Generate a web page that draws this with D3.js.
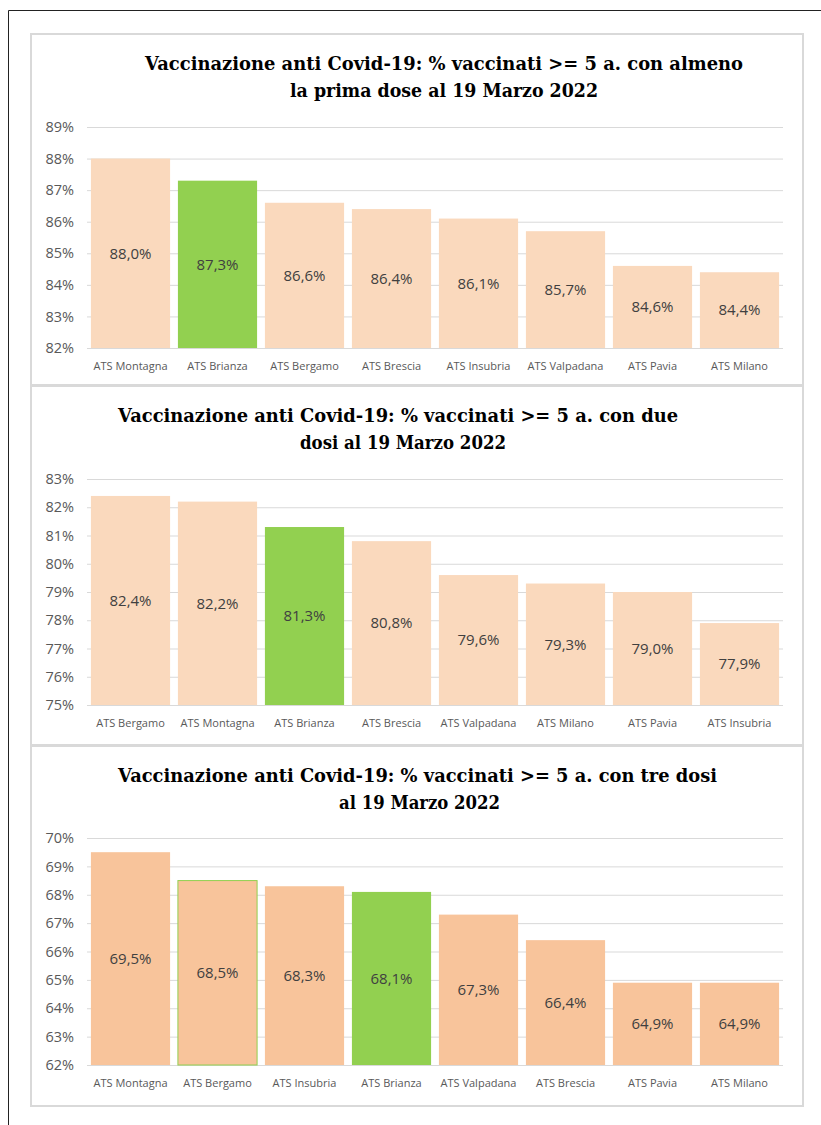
<!DOCTYPE html>
<html>
<head>
<meta charset="utf-8">
<script src="https://cdn.jsdelivr.net/npm/d3@7"></script>
<style>
  body { margin: 0; background: #fff; }
  svg { display: block; }
</style>
</head>
<body>
<svg id="chart"></svg>
<script>
// Data
var categoriesPrima = ["ATS Montagna", "ATS Brianza", "ATS Bergamo", "ATS Brescia", "ATS Insubria", "ATS Valpadana", "ATS Pavia", "ATS Milano"];
var valuesPrima = [88.0, 87.3, 86.6, 86.4, 86.1, 85.7, 84.6, 84.4];
var ticksPrima = [82, 83, 84, 85, 86, 87, 88, 89];
var titlePrima = ["Vaccinazione anti Covid-19: % vaccinati >= 5 a. con almeno", "la prima dose al 19 Marzo 2022"];

var categoriesDue = ["ATS Bergamo", "ATS Montagna", "ATS Brianza", "ATS Brescia", "ATS Valpadana", "ATS Milano", "ATS Pavia", "ATS Insubria"];
var valuesDue = [82.4, 82.2, 81.3, 80.8, 79.6, 79.3, 79.0, 77.9];
var ticksDue = [75, 76, 77, 78, 79, 80, 81, 82, 83];
var titleDue = ["Vaccinazione anti Covid-19: % vaccinati >= 5 a. con due", "dosi al 19 Marzo 2022"];

var categoriesTre = ["ATS Montagna", "ATS Bergamo", "ATS Insubria", "ATS Brianza", "ATS Valpadana", "ATS Brescia", "ATS Pavia", "ATS Milano"];
var valuesTre = [69.5, 68.5, 68.3, 68.1, 67.3, 66.4, 64.9, 64.9];
var ticksTre = [62, 63, 64, 65, 66, 67, 68, 69, 70];
var titleTre = ["Vaccinazione anti Covid-19: % vaccinati >= 5 a. con tre dosi", "al 19 Marzo 2022"];

var highlight = "ATS Brianza";

var width = 821,
    height = 1125;

var svg = d3.select("#chart")
    .attr("width", width)
    .attr("height", height);

// Outer frame of the page
svg.append("line")
    .attr("x1", 8.5).attr("y1", 10.5)
    .attr("x2", width).attr("y2", 10.5)
    .attr("stroke", "#222").attr("stroke-width", 1);
svg.append("line")
    .attr("x1", 8.5).attr("y1", 10.5)
    .attr("x2", 8.5).attr("y2", height)
    .attr("stroke", "#222").attr("stroke-width", 1);

var fmtValue = function (v) {
    return d3.format(".1f")(v).replace(".", ",") + "%";
};

function drawPanel(o) {
    var g = svg.append("g");

    // Panel border
    g.append("rect")
        .attr("x", 31).attr("y", o.top)
        .attr("width", 772).attr("height", o.bottom - o.top)
        .attr("fill", "none")
        .attr("stroke", "#d9d9d9")
        .attr("stroke-width", 2);

    // Title, two lines
    g.selectAll(".title")
        .data(o.title)
        .enter().append("text")
        .attr("class", "title")
        .attr("x", function (d, i) { return o.titleX[i]; })
        .attr("y", function (d, i) { return o.titleY[i]; })
        .attr("textLength", function (d, i) { return o.titleW[i]; })
        .attr("lengthAdjust", "spacingAndGlyphs")
        .style("font-family", "'DejaVu Serif', serif")
        .style("font-weight", "bold")
        .style("font-size", "18px")
        .attr("fill", "#000")
        .text(function (d) { return d; });

    var x = d3.scaleBand()
        .domain(o.categories)
        .range([87, 783])
        .paddingInner(0.09)
        .paddingOuter(0.045);

    var y = d3.scaleLinear()
        .domain([o.ticks[0], o.ticks[o.ticks.length - 1]])
        .range([o.yBottom, o.yTop]);

    // Gridlines
    var yAxis = d3.axisLeft(y)
        .tickValues(o.ticks)
        .tickSize(-(783 - 87))
        .tickFormat(function (d) { return d + "%"; });

    var ga = g.append("g")
        .attr("transform", "translate(87,0)")
        .call(yAxis);
    ga.select(".domain").remove();
    ga.selectAll(".tick line")
        .attr("stroke", "#d9d9d9")
        .attr("stroke-width", 1);
    ga.selectAll(".tick text")
        .attr("x", -13)
        .attr("fill", "#595959")
        .style("font-family", "'Open Sans', sans-serif")
        .style("font-size", "14.5px");

    var data = o.categories.map(function (c, i) {
        return { label: c, value: o.values[i] };
    });

    // Bars
    g.selectAll(".bar")
        .data(data)
        .enter().append("rect")
        .attr("class", "bar")
        .attr("x", function (d) { return x(d.label); })
        .attr("y", function (d) { return y(d.value); })
        .attr("width", x.bandwidth())
        .attr("height", function (d) { return o.yBottom - y(d.value); })
        .attr("fill", function (d) { return d.label == highlight ? "#92d050" : o.color; })
        .attr("stroke", function (d) { return d.label == o.outlined ? "#92d050" : "none"; })
        .attr("stroke-width", 1);

    // Value labels in the middle of each bar
    g.selectAll(".value")
        .data(data)
        .enter().append("text")
        .attr("class", "value")
        .attr("x", function (d) { return x(d.label) + x.bandwidth() / 2; })
        .attr("y", function (d) { return (y(d.value) + o.yBottom) / 2; })
        .attr("dy", "0.35em")
        .style("text-anchor", "middle")
        .style("font-family", "'Open Sans', sans-serif")
        .style("font-size", "15px")
        .attr("fill", "#404040")
        .text(function (d) { return fmtValue(d.value); });

    // Category labels
    g.selectAll(".cat")
        .data(data)
        .enter().append("text")
        .attr("class", "cat")
        .attr("x", function (d) { return x(d.label) + x.bandwidth() / 2; })
        .attr("y", o.yBottom + 22)
        .style("text-anchor", "middle")
        .style("font-family", "'Open Sans', sans-serif")
        .style("font-size", "11px")
        .attr("fill", "#595959")
        .text(function (d) { return d.label; });
}

drawPanel({
    top: 34, bottom: 385,
    title: titlePrima, titleX: [145, 290], titleY: [70, 97], titleW: [598, 308],
    categories: categoriesPrima, values: valuesPrima, ticks: ticksPrima,
    yTop: 127, yBottom: 348,
    color: "#fad9bd"
});

drawPanel({
    top: 386, bottom: 745,
    title: titleDue, titleX: [118, 300], titleY: [422, 449], titleW: [560, 206],
    categories: categoriesDue, values: valuesDue, ticks: ticksDue,
    yTop: 479, yBottom: 705,
    color: "#fad9bd"
});

drawPanel({
    top: 746, bottom: 1106,
    title: titleTre, titleX: [118, 339], titleY: [782, 809], titleW: [599, 161],
    categories: categoriesTre, values: valuesTre, ticks: ticksTre,
    yTop: 838, yBottom: 1065,
    color: "#f8c49b", outlined: "ATS Bergamo"
});
</script>
</body>
</html>
